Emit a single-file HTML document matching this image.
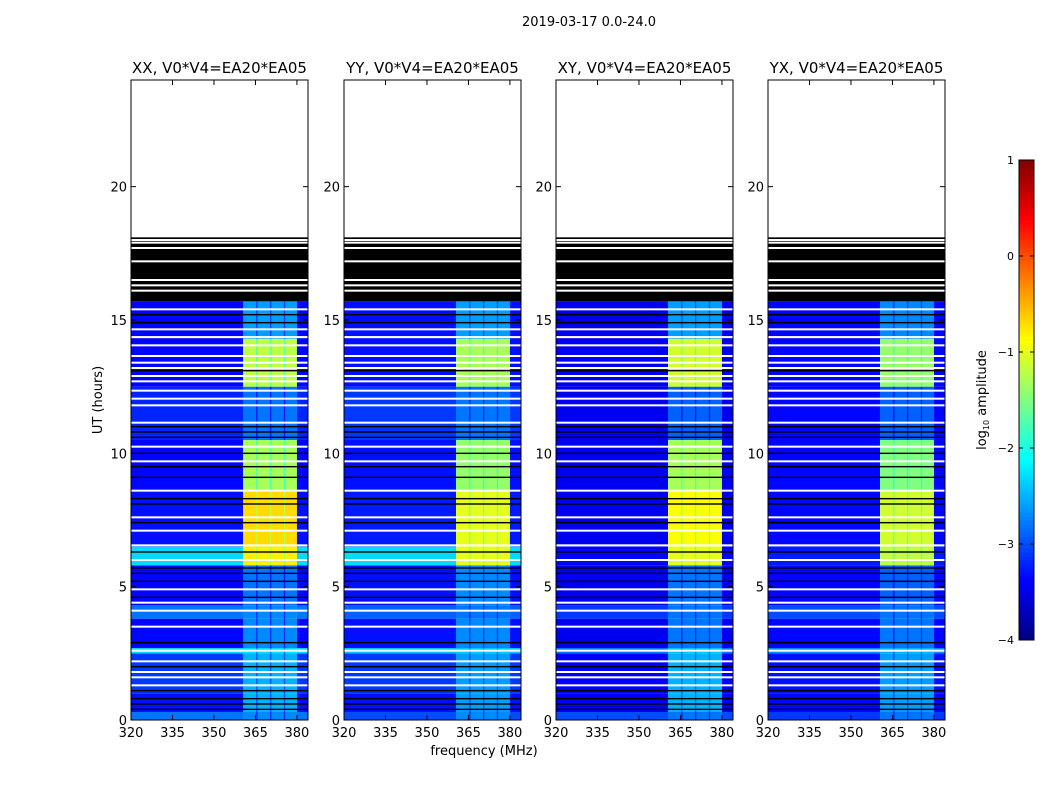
<!DOCTYPE html>
<html><head><meta charset="utf-8">
<style>
html,body{margin:0;padding:0;background:#fff;}
svg{display:block;font-family:"DejaVu Sans","Liberation Sans",sans-serif;}
</style></head>
<body>
<svg id="fig" width="1050" height="800" viewBox="0 0 1050 800" xmlns="http://www.w3.org/2000/svg">
<rect width="1050" height="800" fill="#fff"/>
<text x="589" y="26" font-size="13" text-anchor="middle">2019-03-17 0.0-24.0</text>
<text x="484" y="755" font-size="13" text-anchor="middle">frequency (MHz)</text>
<text transform="translate(102,400) rotate(-90)" font-size="13" text-anchor="middle">UT (hours)</text>
<g id="panels"></g>
<g id="cbar"></g>
</svg>
<script>
// ---- data ----
const panelTitles = ["XX, V0*V4=EA20*EA05","YY, V0*V4=EA20*EA05","XY, V0*V4=EA20*EA05","YX, V0*V4=EA20*EA05"];
const segStart = [0.0, 0.3, 1.0, 2.5, 2.7, 3.8, 4.3, 5.8, 6.5, 8.6, 10.5, 12.5, 14.3];
const segEnd   = [0.3, 1.0, 2.5, 2.7, 3.8, 4.3, 5.8, 6.5, 8.6, 10.5, 12.5, 14.3, 15.7];
const baseXX = [-2.8,-3.3,-3.1,-2.3,-3.35,-2.8,-3.35,-2.3,-3.3,-3.35,-3.2,-3.35,-3.35];
const baseYY = [-3.0,-3.3,-3.1,-2.4,-3.3,-2.9,-3.3,-2.3,-3.25,-3.3,-3.1,-3.3,-3.3];
const baseXY = [-3.0,-3.45,-3.4,-2.8,-3.45,-3.1,-3.45,-3.35,-3.45,-3.45,-3.45,-3.45,-3.45];
const baseYX = [-3.1,-3.35,-3.3,-2.7,-3.35,-3.0,-3.35,-3.25,-3.35,-3.35,-3.35,-3.35,-3.35];
const bandXX = [-2.7,-2.5,-2.5,-2.3,-2.7,-2.7,-2.8,-0.8,-0.7,-1.3,-2.8,-1.2,-2.6];
const bandYY = [-2.7,-2.6,-2.6,-2.4,-2.7,-2.8,-2.7,-1.0,-1.0,-1.4,-2.8,-1.3,-2.6];
const bandXY = [-2.8,-2.5,-2.5,-2.4,-2.8,-2.8,-2.8,-1.0,-0.9,-1.3,-2.9,-1.1,-2.6];
const bandYX = [-2.8,-2.6,-2.6,-2.5,-2.8,-2.8,-2.9,-1.2,-1.1,-1.5,-2.9,-1.4,-2.7];
const baseLevels = [baseXX, baseYY, baseXY, baseYX];
const bandLevels = [bandXX, bandYY, bandXY, bandYX];
const bandFreqs = [360.5, 380.0];
const subbandEdges = [365.5, 370.5, 375.5];
const flagBlock = [15.7, 18.1];
const whiteFlags = [1.3,1.6,1.8,2.2,2.6,3.5,4.1,4.4,4.9,6.0,6.55,7.1,7.6,8.6,9.7,10.25,11.15,11.8,12.05,12.35,12.7,12.9,13.2,13.4,13.65,14.05,14.36,14.65,15.4,16.1,16.3,16.5,17.2,17.7,17.9,18.0];
const blackFlags = [0.4,0.6,0.8,1.1,2.0,2.9,4.6,5.2,5.5,5.7,6.3,7.4,8.1,8.3,9.1,9.5,10.0,10.6,10.8,11.0,13.1,14.9,15.2];
const xTicks = [320,335,350,365,380];
const yTicks = [0,5,10,15,20];
const cbarTicks = [1,0,-1,-2,-3,-4];
// ---- layout ----
const panelX = [131,344,556,768], PW=177, PT=80, PB=720;
const fMin=320, fMax=384, tMin=0, tMax=24, vMin=-4, vMax=1;
const NS="http://www.w3.org/2000/svg";
function mk(tag, attrs, parent){const e=document.createElementNS(NS,tag);for(const k in attrs)e.setAttribute(k,attrs[k]);parent.appendChild(e);return e;}
function jet(v){
  let t=(v-vMin)/(vMax-vMin); t=Math.max(0,Math.min(1,t));
  const f=x=>Math.max(0,Math.min(1,x));
  const r=f(1.5-Math.abs(4*t-3)), g=f(1.5-Math.abs(4*t-2)), b=f(1.5-Math.abs(4*t-1));
  return `rgb(${Math.round(r*255)},${Math.round(g*255)},${Math.round(b*255)})`;
}
const panels=document.getElementById('panels');
panelTitles.forEach((title,p)=>{
  const x0=panelX[p];
  const xs=f=>x0+(f-fMin)/(fMax-fMin)*PW;
  const ys=t=>PB-(t-tMin)/(tMax-tMin)*(PB-PT);
  const g=mk('g',{},panels);
  
  
  const cg=mk('g',{},g);
  segStart.forEach((s,i)=>{
    const y1=ys(segEnd[i]), y2=ys(s), h=y2-y1;
    const c1=mk('rect',{x:xs(fMin),y:y1,width:xs(bandFreqs[0])-xs(fMin),height:h,fill:jet(baseLevels[p][i])},cg);
    
    
    const c2=mk('rect',{x:xs(bandFreqs[0]),y:y1,width:xs(bandFreqs[1])-xs(bandFreqs[0]),height:h,fill:jet(bandLevels[p][i])},cg);
    
    
    const c3=mk('rect',{x:xs(bandFreqs[1]),y:y1,width:xs(fMax)-xs(bandFreqs[1]),height:h,fill:jet(baseLevels[p][i])},cg);
    
    
    subbandEdges.forEach(fe=>{
      const d=mk('rect',{x:xs(fe)-0.6,y:y1,width:1.2,height:h,fill:jet(bandLevels[p][i]-0.5)},cg);
      
      
    });
  });
  const blk=mk('rect',{x:x0,y:ys(flagBlock[1]),width:PW,height:ys(flagBlock[0])-ys(flagBlock[1]),fill:'#000'},cg);
  
  
  blackFlags.forEach(t=>{
    const l=mk('rect',{x:x0,y:ys(t)-0.7,width:PW,height:1.4,fill:'#000'},cg);
    
    
  });
  whiteFlags.forEach(t=>{
    const l=mk('rect',{x:x0,y:ys(t)-1,width:PW,height:2,fill:'#fff'},cg);
    
    
  });
  const fr=mk('rect',{x:x0,y:PT,width:PW,height:PB-PT,fill:'none',stroke:'#000','stroke-width':1},g);
  
  
  const tt=mk('text',{x:x0+PW/2,y:73,'font-size':15,'text-anchor':'middle'},g);
  tt.textContent=title;
  
  
  xTicks.forEach(v=>{
    const x=xs(v);
    mk('line',{x1:x,x2:x,y1:PB,y2:PB-5,stroke:'#000'},g);
    mk('line',{x1:x,x2:x,y1:PT,y2:PT+5,stroke:'#000'},g);
    const t=mk('text',{x:x,y:PB+17,'font-size':13,'text-anchor':'middle'},g);
    t.textContent=v;
    
    
  });
  yTicks.forEach(v=>{
    const y=ys(v);
    mk('line',{x1:x0,x2:x0+5,y1:y,y2:y,stroke:'#000'},g);
    mk('line',{x1:x0+PW,x2:x0+PW-5,y1:y,y2:y,stroke:'#000'},g);
    const t=mk('text',{x:x0-4,y:y+5,'font-size':13,'text-anchor':'end'},g);
    t.textContent=v;
    
    
  });
});
// colorbar
const cb=document.getElementById('cbar');


const CX=1019, CW=15, CT=160, CB=640;
const cy=v=>CB-(v-vMin)/(vMax-vMin)*(CB-CT);
for(let i=0;i<120;i++){
  const v0=vMin+(vMax-vMin)*i/120, v1=vMin+(vMax-vMin)*(i+1)/120;
  mk('rect',{x:CX,y:cy(v1),width:CW,height:cy(v0)-cy(v1)+0.5,fill:jet((v0+v1)/2)},cb);
}
mk('rect',{x:CX,y:CT,width:CW,height:CB-CT,fill:'none',stroke:'#000'},cb);
cbarTicks.forEach(v=>{
  const y=cy(v);
  mk('line',{x1:CX,x2:CX+4,y1:y,y2:y,stroke:'#000'},cb);
  mk('line',{x1:CX+CW,x2:CX+CW-4,y1:y,y2:y,stroke:'#000'},cb);
  const t=mk('text',{x:CX-5,y:y+4,'font-size':11,'text-anchor':'end'},cb);
  t.textContent=v<0?'\u2212'+(-v):v;
  
  
});
const cl=mk('text',{transform:'translate(986,400) rotate(-90)','font-size':13,'text-anchor':'middle'},cb);
cl.innerHTML='log<tspan font-size="8" dy="3">10</tspan><tspan dy="-3"> amplitude</tspan>';


</script>
</body></html>
